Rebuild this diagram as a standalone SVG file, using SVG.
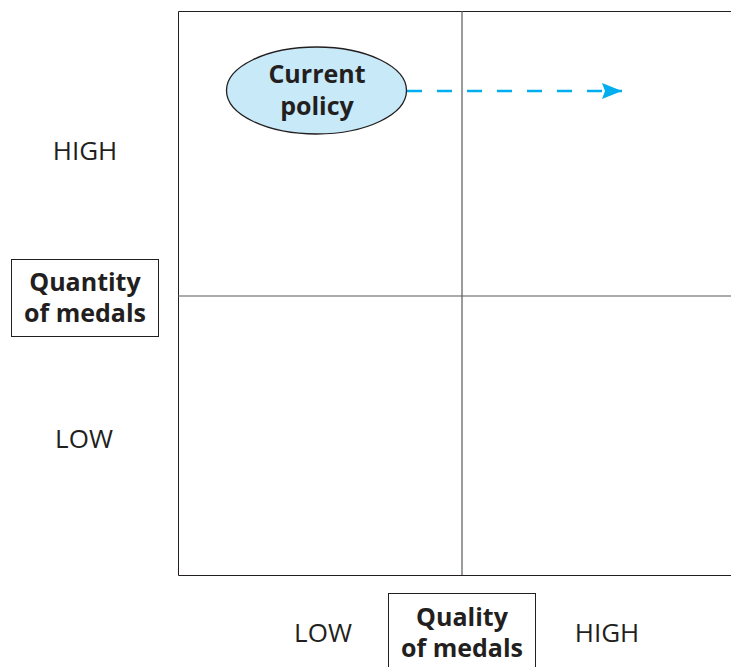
<svg xmlns="http://www.w3.org/2000/svg" width="731" height="667" viewBox="0 0 731 667">
<style>
text{font-family:"Open Sans","Noto Sans","Liberation Sans",sans-serif;fill:#231f20}
.b{font-weight:bold;text-anchor:middle;font-size:25px}
.r{text-anchor:middle;font-size:26px}
.box{fill:#fff;stroke:#231f20;stroke-width:1}
.div{stroke:#58595b;stroke-width:1.2;fill:none}
</style>
<defs>
<marker id="ah" markerWidth="20" markerHeight="16" refX="20" refY="8" orient="auto" markerUnits="userSpaceOnUse">
<path d="M0,0 L20,8 L0,16 L3,8 Z" fill="#00aeef"/>
</marker>
</defs>
<g id="grid">
<path d="M731,11.5 H178.5 V575.5 H731" fill="none" stroke="#231f20" stroke-width="1"/>
<line class="div" x1="462" y1="11" x2="462" y2="575"/>
<line class="div" x1="178" y1="296" x2="731" y2="296"/>
</g>
<g id="axis-labels">
<text class="r" x="85" y="160">HIGH</text>
<text class="r" x="84" y="448">LOW</text>
<text class="r" x="323" y="642">LOW</text>
<text class="r" x="607" y="642">HIGH</text>
</g>
<g id="connectors">
<line x1="407" y1="91" x2="622" y2="91" stroke="#00aeef" stroke-width="2.6" stroke-dasharray="15 15" marker-end="url(#ah)"/>
</g>
<g id="current-policy">
<ellipse cx="316.5" cy="90.5" rx="90" ry="43.5" fill="#c7e9f8" stroke="#231f20" stroke-width="1.3"/>
<text class="b" x="317" y="83">Current</text>
<text class="b" x="317" y="115">policy</text>
</g>
<g id="quantity">
<rect class="box" x="11.5" y="259.5" width="147" height="77"/>
<text class="b" x="85" y="291">Quantity</text>
<text class="b" x="85" y="322">of medals</text>
</g>
<g id="quality">
<rect class="box" x="388.5" y="593.5" width="147" height="80"/>
<text class="b" x="462" y="626">Quality</text>
<text class="b" x="462" y="657">of medals</text>
</g>
</svg>
